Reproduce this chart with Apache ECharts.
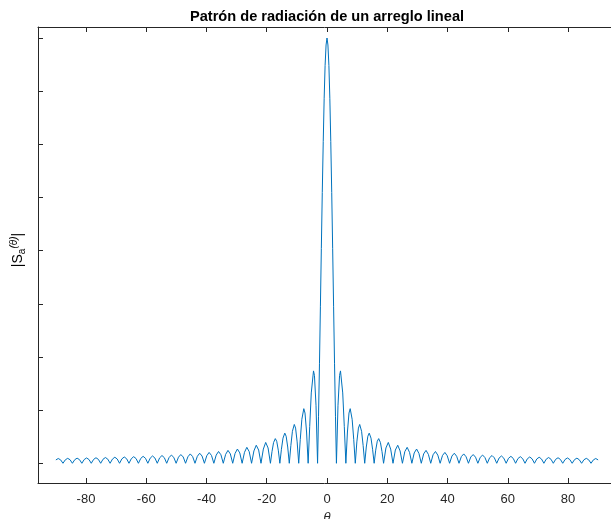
<!DOCTYPE html>
<html>
<head>
<meta charset="utf-8">
<script src="https://cdn.jsdelivr.net/npm/echarts@6/dist/echarts.min.js"></script>
<style>
html,body{margin:0;padding:0;background:#fff;}
#c{width:611px;height:519px;}
</style>
</head>
<body>
<div id="c"></div>
<script>
// Angle values (degrees): nulls, shoulders and lobe peaks
var theta = [
-90,-89.21,-88.42,
-87.64,-86.86,-86.08,-85.29,
-84.51,-83.73,-82.95,-82.16,
-81.38,-80.6,-79.82,-79.03,
-78.25,-77.47,-76.69,-75.9,
-75.12,-74.34,-73.56,-72.77,
-71.99,-71.21,-70.43,-69.64,
-68.86,-68.08,-67.3,-66.51,
-65.73,-64.95,-64.17,-63.38,
-62.6,-61.82,-61.04,-60.25,
-59.47,-58.69,-57.91,-57.12,
-56.34,-55.56,-54.78,-53.99,
-53.21,-52.43,-51.65,-50.86,
-50.08,-49.3,-48.52,-47.73,
-46.95,-46.17,-45.39,-44.6,
-43.82,-43.04,-42.26,-41.47,
-40.69,-39.91,-39.13,-38.34,
-37.56,-36.78,-36,-35.21,
-34.43,-33.65,-32.87,-32.08,
-31.3,-30.52,-29.74,-28.95,
-28.17,-27.39,-26.61,-25.82,
-25.04,-24.26,-23.48,-22.69,
-21.91,-21.13,-20.35,-19.56,
-18.78,-18.26,-17.74,-17.16,-16.69,-16.17,
-15.65,-15.13,-14.61,-14.01,-13.56,-13.04,
-12.52,-12,-11.48,-10.86,-10.43,-9.91,
-9.39,-8.87,-8.35,-7.7,-7.3,-6.78,
-6.26,-5.74,-5.22,-4.48,-4.17,-3.65,
-3.13,-2.82,-2.5,-2.19,-1.88,-1.57,-1.25,-0.94,-0.63,-0.31,
0,
0.31,0.63,0.94,1.25,1.57,1.88,2.19,2.5,2.82,3.13,
3.65,4.17,4.48,5.22,5.74,6.26,
6.78,7.3,7.7,8.35,8.87,9.39,
9.91,10.43,10.86,11.48,12,12.52,
13.04,13.56,14.01,14.61,15.13,15.65,
16.17,16.69,17.16,17.74,18.26,18.78,
19.56,20.35,21.13,21.91,
22.69,23.48,24.26,25.04,
25.82,26.61,27.39,28.17,
28.95,29.74,30.52,31.3,
32.08,32.87,33.65,34.43,
35.21,36,36.78,37.56,
38.34,39.13,39.91,40.69,
41.47,42.26,43.04,43.82,
44.6,45.39,46.17,46.95,
47.73,48.52,49.3,50.08,
50.86,51.65,52.43,53.21,
53.99,54.78,55.56,56.34,
57.12,57.91,58.69,59.47,
60.25,61.04,61.82,62.6,
63.38,64.17,64.95,65.73,
66.51,67.3,68.08,68.86,
69.64,70.43,71.21,71.99,
72.77,73.56,74.34,75.12,
75.9,76.69,77.47,78.25,
79.03,79.82,80.6,81.38,
82.16,82.95,83.73,84.51,
85.29,86.08,86.86,87.64,
88.42,89.21,90
];
// |Sa(theta)| (peak normalised to 1)
var sa = [
.0078,.0112,.0080,
0,.0081,.0116,.0083,
0,.0084,.0120,.0086,
0,.0087,.0125,.0089,
0,.0091,.0130,.0093,
0,.0095,.0135,.0097,
0,.0099,.0142,.0101,
0,.0104,.0148,.0106,
0,.0109,.0155,.0111,
0,.0114,.0163,.0117,
0,.0120,.0172,.0123,
0,.0127,.0182,.0131,
0,.0134,.0193,.0139,
0,.0143,.0205,.0148,
0,.0153,.0220,.0158,
0,.0164,.0236,.0170,
0,.0177,.0255,.0184,
0,.0192,.0277,.0200,
0,.0209,.0303,.0220,
0,.0231,.0335,.0243,
0,.0257,.0375,.0273,
0,.0290,.0424,.0311,
0,.0334,.0490,.0360,
0,.0273,.0486,.0580,.0517,.0308,
0,.0329,.0591,.0709,.0636,.0382,
0,.0415,.0752,.0913,.0827,.0503,
0,.0562,.1034,.1284,.1181,.0735,
0,.0868,.1654,.2172,.2067,.1364,
0,.1093,.2339,.3679,.5046,.6366,.7568,.8584,.9355,.9836,
1,
.9836,.9355,.8584,.7568,.6366,.5046,.3679,.2339,.1093,0,
.1364,.2067,.2172,.1654,.0868,0,
.0735,.1181,.1284,.1034,.0562,0,
.0503,.0827,.0913,.0752,.0415,0,
.0382,.0636,.0709,.0591,.0329,0,
.0308,.0517,.0580,.0486,.0273,0,
.0360,.0490,.0334,0,
.0311,.0424,.0290,0,
.0273,.0375,.0257,0,
.0243,.0335,.0231,0,
.0220,.0303,.0209,0,
.0200,.0277,.0192,0,
.0184,.0255,.0177,0,
.0170,.0236,.0164,0,
.0158,.0220,.0153,0,
.0148,.0205,.0143,0,
.0139,.0193,.0134,0,
.0131,.0182,.0127,0,
.0123,.0172,.0120,0,
.0117,.0163,.0114,0,
.0111,.0155,.0109,0,
.0106,.0148,.0104,0,
.0101,.0142,.0099,0,
.0097,.0135,.0095,0,
.0093,.0130,.0091,0,
.0089,.0125,.0087,0,
.0086,.0120,.0084,0,
.0083,.0116,.0081,0,
.0080,.0112,.0078
];
var xTicks = [-80,-60,-40,-20,0,20,40,60,80];
var yTicks = [0,0.125,0.25,0.375,0.5,0.625,0.75,0.875,1];
var titleText = 'Patrón de radiación de un arreglo lineal';

var points = theta.map(function(t,i){return [t, sa[i]];});
var axisColor = '#262626';
var chart = echarts.init(document.getElementById('c'), null, {renderer:'canvas'});
chart.setOption({
  animation:false,
  backgroundColor:'#ffffff',
  grid:{left:38, top:27, right:0, bottom:36, containLabel:false},
  xAxis:[{
    type:'value', position:'bottom', min:-95.93, max:94.27,
    axisLine:{show:true, onZero:false, lineStyle:{color:axisColor, width:1}},
    axisTick:{show:true, inside:true, length:5, customValues:xTicks, lineStyle:{color:axisColor}},
    axisLabel:{show:true, customValues:xTicks, color:axisColor, fontSize:13, margin:10, fontFamily:'Liberation Sans, Arial, sans-serif'},
    splitLine:{show:false}
  },{
    type:'value', position:'top', min:-95.93, max:94.27,
    axisLine:{show:true, onZero:false, lineStyle:{color:axisColor, width:1}},
    axisTick:{show:true, inside:true, length:5, customValues:xTicks, lineStyle:{color:axisColor}},
    axisLabel:{show:false},
    splitLine:{show:false}
  }],
  yAxis:[{
    type:'value', min:-0.0464, max:1.0259,
    axisLine:{show:true, onZero:false, lineStyle:{color:axisColor, width:1}},
    axisTick:{show:true, inside:true, length:5, customValues:yTicks, lineStyle:{color:axisColor}},
    axisLabel:{show:false},
    splitLine:{show:false}
  }],
  series:[{
    type:'line', xAxisIndex:0, yAxisIndex:0,
    data:points, showSymbol:false, symbol:'none',
    lineStyle:{color:'#0072BD', width:1},
    clip:true
  }],
  graphic:[
    {type:'text', x:327, y:17, style:{text:titleText, align:'center', verticalAlign:'middle', font:'bold 14.6px "Liberation Sans", Arial, sans-serif', fill:'#000'}},
    {type:'text', x:18, y:250, rotation:Math.PI/2, style:{
      text:'{n||S}{s|a}{p|(θ)}{n||}', align:'center', verticalAlign:'middle',
      rich:{
        n:{fontSize:14, fontFamily:'Liberation Sans, Arial, sans-serif', color:'#262626', lineHeight:18, verticalAlign:'middle'},
        s:{fontSize:10, fontFamily:'Liberation Sans, Arial, sans-serif', color:'#262626', lineHeight:10, verticalAlign:'bottom'},
        p:{fontSize:10, fontStyle:'italic', fontFamily:'Liberation Sans, Arial, sans-serif', color:'#262626', lineHeight:10, verticalAlign:'top'}
      }
    }},
    {type:'text', x:327, y:517, style:{text:'θ', align:'center', verticalAlign:'middle', font:'italic 13px "Liberation Sans", Arial, sans-serif', fill:'#262626'}}
  ]
});
</script>
</body>
</html>
